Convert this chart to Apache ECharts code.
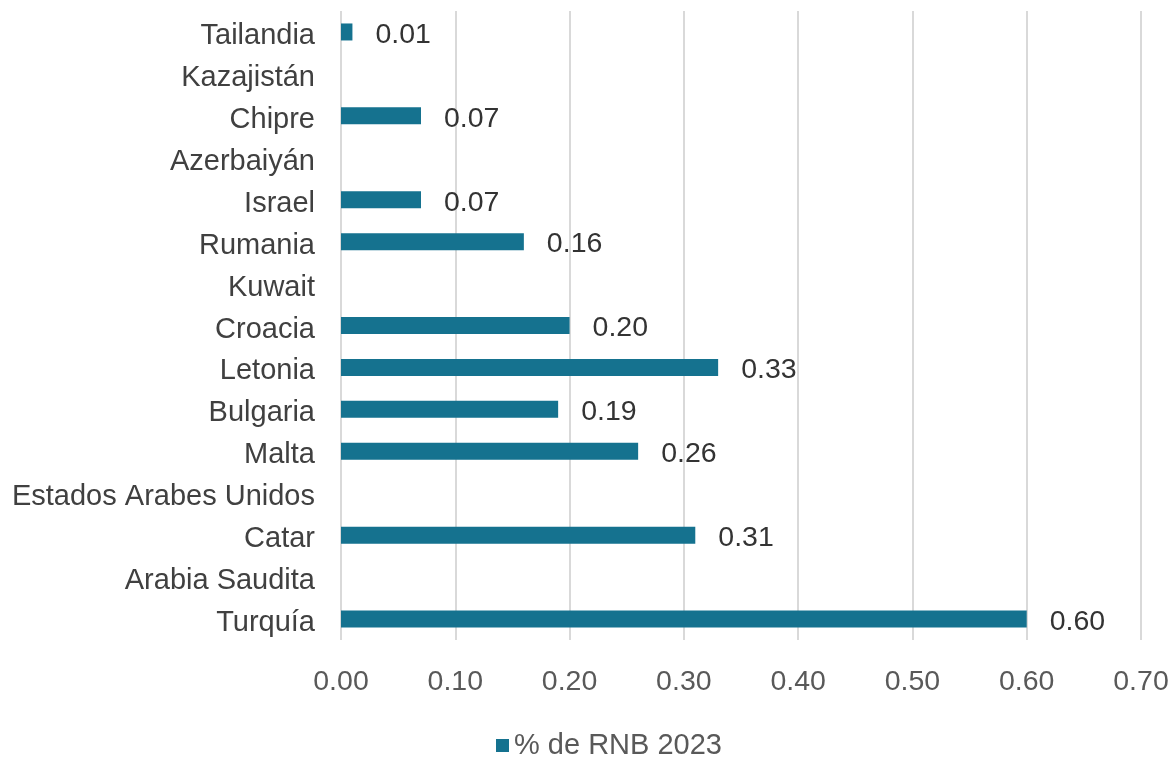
<!DOCTYPE html>
<html>
<head>
<meta charset="utf-8">
<script src="https://cdn.jsdelivr.net/npm/echarts@6/dist/echarts.min.js"></script>
<style>
  html, body { margin: 0; padding: 0; background: #fff; }
  #chart { width: 1176px; height: 765px; }
</style>
</head>
<body>
<div id="chart"></div>
<script>
// categorias de abajo hacia arriba (como en el eje del original)
const countries = [
  "Turquía", "Arabia Saudita", "Catar", "Estados Arabes Unidos", "Malta",
  "Bulgaria", "Letonia", "Croacia", "Kuwait", "Rumania",
  "Israel", "Azerbaiyán", "Chipre", "Kazajistán", "Tailandia"
];
// % de RNB 2023 (null = sin dato)
const gniShare = [
  0.60, null, 0.31, null, 0.26,
  0.19, 0.33, 0.20, null, 0.16,
  0.07, null, 0.07, null, 0.01
];
const seriesName = "% de RNB 2023";

const chart = echarts.init(document.getElementById("chart"));
const fontFamily = "Liberation Sans, Arial, sans-serif";

chart.setOption({
  animation: false,
  grid: {
    left: 341,
    right: 35,
    top: 11,
    bottom: 125
  },
  xAxis: {
    type: "value",
    min: 0,
    max: 0.7,
    interval: 0.1,
    axisLine: { show: false },
    axisTick: { show: false },
    splitLine: { lineStyle: { color: "#d9d9d9", width: 2 } },
    axisLabel: {
      color: "#595959",
      fontSize: 28.5,
      fontFamily: fontFamily,
      margin: 28,
      formatter: (v) => v.toFixed(2)
    }
  },
  yAxis: {
    type: "category",
    data: countries,
    axisLine: { show: false },
    axisTick: { show: false },
    axisLabel: {
      margin: 26,
      formatter: (v) => "{c|" + v + "}",
      rich: {
        c: {
          color: "#404040",
          fontSize: 29,
          fontFamily: fontFamily,
          padding: [8, 0, 0, 0]
        }
      }
    }
  },
  legend: {
    bottom: 0,
    left: 491,
    itemWidth: 13,
    itemHeight: 13,
    itemGap: 6,
    icon: "rect",
    textStyle: { color: "#595959", fontSize: 29, fontFamily: fontFamily },
    data: [seriesName]
  },
  series: [
    {
      name: seriesName,
      type: "bar",
      data: gniShare,
      barWidth: 17,
      itemStyle: { color: "#15728f" },
      label: {
        show: true,
        position: "right",
        distance: 23,
        formatter: (p) => p.value == null ? "" : "{v|" + p.value.toFixed(2) + "}",
        rich: {
          v: {
            color: "#333333",
            fontSize: 28.5,
            fontFamily: fontFamily,
            padding: [6, 0, 0, 0]
          }
        }
      }
    }
  ]
});
</script>
</body>
</html>
